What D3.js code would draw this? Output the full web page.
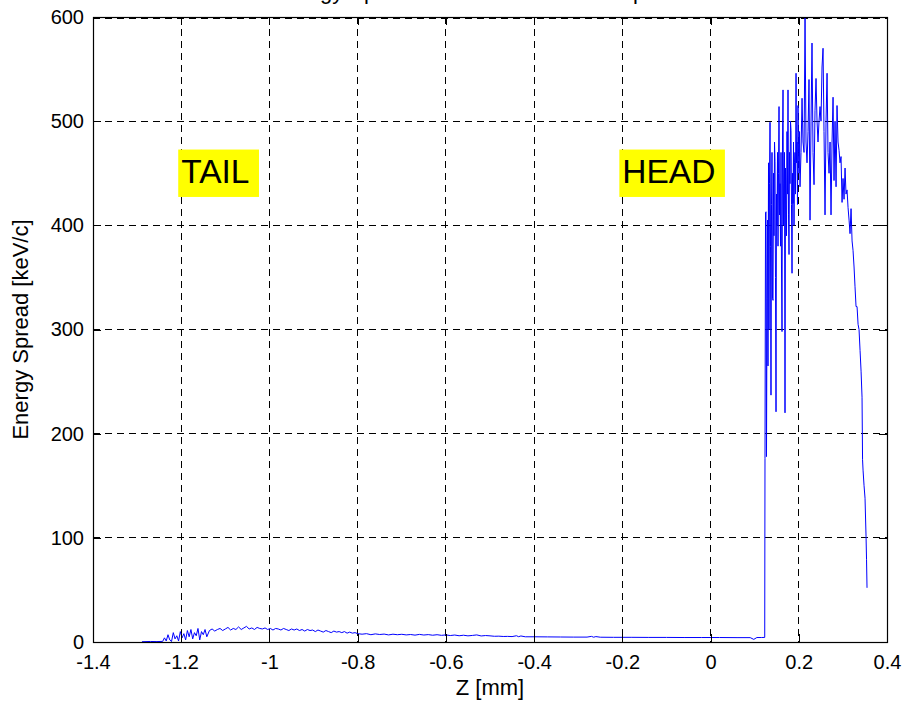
<!DOCTYPE html>
<html>
<head>
<meta charset="utf-8">
<script src="https://cdn.jsdelivr.net/npm/d3@7"></script>
<style>
  body { margin: 0; background: #fff; }
  svg text { font-family: "Liberation Sans", Arial, Helvetica, sans-serif; fill: #000; }
</style>
</head>
<body>
<svg id="chart" width="906" height="707"></svg>
<script>
// ---- axis ticks ----
const xTicks = [-1.4, -1.2, -1, -0.8, -0.6, -0.4, -0.2, 0, 0.2, 0.4];
const xTickLabels = ["-1.4", "-1.2", "-1", "-0.8", "-0.6", "-0.4", "-0.2", "0", "0.2", "0.4"];
const yTicks = [0, 100, 200, 300, 400, 500, 600];
const yTickLabels = ["0", "100", "200", "300", "400", "500", "600"];

// ---- annotations ----
const noteText = ["TAIL", "HEAD"];
const noteZ = [-1.2, -0.2];
const noteE = [450, 450];

// ---- slice energy spread [keV/c] vs Z [mm] ----
// bunch tail: start-up and noisy onset
const zTail = [-1.289, -1.270, -1.255, -1.242, -1.238, -1.234, -1.230, -1.226, -1.222, -1.218,
  -1.214, -1.210, -1.206, -1.202, -1.198, -1.194, -1.190, -1.186, -1.182, -1.178, -1.174,
  -1.170, -1.166, -1.162, -1.158, -1.154, -1.150, -1.146, -1.142];
const eTail = [0.3, 0.5, 0.4, 0.6, 4, 1, 7, 2, 0.5, 9, 3, 6, 1, 10, 4, 8, 2, 11, 5, 12, 3, 9,
  6, 13, 2, 10, 7, 12, 5];

// bunch core
const zCore = [-1.136, -1.130, -1.124, -1.118, -1.112, -1.106, -1.100, -1.094, -1.088, -1.082,
  -1.076, -1.070, -1.064, -1.058, -1.052, -1.046, -1.040, -1.034, -1.028, -1.022, -1.016,
  -1.010, -1.004, -0.998, -0.992, -0.986, -0.980, -0.974, -0.968, -0.962, -0.956, -0.950,
  -0.944, -0.938, -0.932, -0.926, -0.920, -0.914, -0.908, -0.902, -0.896, -0.890, -0.884,
  -0.878, -0.872, -0.866, -0.860, -0.854, -0.848, -0.842, -0.836, -0.830, -0.824, -0.818,
  -0.812, -0.806, -0.800];
const eCore = [11, 12.5, 10.5, 12, 13, 11, 12.5, 14, 11.5, 13, 12, 14.5, 12, 13.5, 15, 12.5,
  13.5, 12, 14, 13, 12.5, 13.5, 12, 13, 11.5, 13, 12.5, 11.5, 13, 12, 11, 12.5, 11.5, 12.5,
  11, 12, 10.5, 12, 11, 11.5, 10, 11.5, 10.5, 9.5, 11, 10, 9, 10.5, 9.5, 10, 9, 10, 8.5,
  9.5, 8.5, 9, 8];

// middle of the bunch
const zMid = [-0.79, -0.78, -0.77, -0.76, -0.75, -0.74, -0.73, -0.72, -0.71, -0.70, -0.69,
  -0.68, -0.67, -0.66, -0.65, -0.64, -0.63, -0.62, -0.61, -0.60, -0.59, -0.58, -0.57, -0.56,
  -0.55, -0.54, -0.53, -0.52, -0.51, -0.50];
const eMid = [7.5, 8, 7, 7.8, 7.2, 7.6, 6.8, 7.5, 7, 7.4, 6.8, 7.2, 6.6, 7.3, 6.7, 7.1, 6.5,
  7, 6.4, 6.8, 6.2, 6.7, 6, 6.5, 5.9, 6.3, 6.8, 5.8, 6.2, 5.9];

// quiet stretch up to the head
const zFlat = [-0.49, -0.48, -0.47, -0.46, -0.45, -0.44, -0.435, -0.43, -0.42, -0.40, -0.37,
  -0.34, -0.31, -0.28, -0.27, -0.265, -0.26, -0.25, -0.22, -0.18, -0.14, -0.10, -0.06, -0.02,
  0.02, 0.06, 0.09, 0.098, 0.105, 0.115, 0.1228];
const eFlat = [5.5, 5.6, 5.3, 5.4, 5.2, 6, 5.1, 5.8, 5, 5, 4.9, 4.8, 4.7, 4.7, 5.4, 4.6, 5.2,
  4.6, 4.5, 4.5, 4.4, 4.4, 4.3, 4.3, 4.3, 4.2, 4.2, 2.5, 4.3, 4.3, 4.4];

// head: steep rise and strongly fluctuating slices
const zHeadRise = [0.1234, 0.1246, 0.1257, 0.1268, 0.1280, 0.1291, 0.1302, 0.1314, 0.1325,
  0.1336, 0.1348, 0.1359, 0.1370, 0.1382, 0.1393, 0.1404, 0.1416, 0.1427, 0.1438, 0.1450,
  0.1461, 0.1472, 0.1484, 0.1495, 0.1506, 0.1518, 0.1529, 0.1540, 0.1552, 0.1563, 0.1575,
  0.1586, 0.1597, 0.1608, 0.1620, 0.1631, 0.1643, 0.1654, 0.1665, 0.1676, 0.1688, 0.1699,
  0.1711, 0.1722, 0.1733, 0.1744, 0.1756, 0.1767, 0.1779, 0.1790, 0.1801, 0.1812, 0.1824,
  0.1835, 0.1847, 0.1858, 0.1870, 0.1881, 0.1892, 0.1903, 0.1915, 0.1926, 0.1938, 0.1949,
  0.1960, 0.1971, 0.1983, 0.1994, 0.2006, 0.2017, 0.2028];
const eHeadRise = [176, 412, 413, 178, 330, 405, 265, 460, 300, 440, 499, 380, 237, 420, 470,
  330, 328, 450, 390, 480, 461, 350, 221, 430, 400, 470, 380, 450, 514, 410, 440, 380, 470,
  360, 298, 480, 530, 400, 440, 470, 220, 455, 420, 390, 490, 430, 530, 410, 372, 470, 440,
  500, 491, 420, 354, 450, 421, 480, 400, 460, 470, 430, 546, 460, 480, 420, 515, 470, 450,
  490, 437];

// head: peak region and fall-off at the front edge
const zHeadFront = [0.2051, 0.2074, 0.2096, 0.2119, 0.2142, 0.2164, 0.2187, 0.2210, 0.2232,
  0.2255, 0.2278, 0.2300, 0.2323, 0.2346, 0.2368, 0.2391, 0.2414, 0.2436, 0.2459, 0.2482,
  0.2504, 0.2527, 0.2550, 0.2572, 0.2595, 0.2618, 0.2641, 0.2663, 0.2686, 0.2709, 0.2731,
  0.2754, 0.2777, 0.2799, 0.2822, 0.2845, 0.2867, 0.2890, 0.2913, 0.2935, 0.2958, 0.2981,
  0.3003, 0.3026, 0.3049, 0.3071, 0.3094, 0.3117, 0.3140, 0.3162, 0.3185, 0.3208, 0.3230,
  0.3253, 0.3275, 0.3298, 0.3321, 0.3344, 0.3366, 0.3389, 0.3412, 0.3434, 0.3446, 0.3457,
  0.3480, 0.3502, 0.3525, 0.3536, 0.3547];
const eHeadFront = [470, 522, 480, 470, 599, 480, 460, 490, 540, 405, 500, 575, 470, 439, 510,
  541, 500, 480, 500, 514, 500, 552, 570, 490, 410, 500, 546, 470, 450, 480, 410, 480, 523,
  443, 500, 437, 515, 480, 472, 460, 466, 422, 445, 425, 455, 430, 434, 417, 405, 392, 416,
  385, 376, 360, 341, 322, 322, 305, 300, 280, 260, 235, 175, 165, 150, 138, 101, 79, 52];

const zAll = [].concat(zTail, zCore, zMid, zFlat, zHeadRise, zHeadFront);
const eAll = [].concat(eTail, eCore, eMid, eFlat, eHeadRise, eHeadFront);
const profile = zAll.map((z, i) => ({ z, e: eAll[i] }));

// ---- layout ----
const box = { left: 93, right: 887, top: 17, bottom: 642 };
const svg = d3.select("#chart");

const x = d3.scaleLinear().domain([-1.4, 0.4]).range([box.left, box.right]);
const y = d3.scaleLinear().domain([0, 600]).range([box.bottom, box.top]);

// dashed grid
const grid = svg.append("g").attr("shape-rendering", "crispEdges")
  .attr("stroke", "#000").attr("stroke-width", 1).attr("stroke-dasharray", "7,5");
grid.selectAll("line.gx").data(xTicks.slice(1, -1)).join("line")
  .attr("class", "gx")
  .attr("x1", d => x(d)).attr("x2", d => x(d))
  .attr("y1", box.top).attr("y2", box.bottom);
grid.selectAll("line.gy").data(yTicks.slice(1, -1)).join("line")
  .attr("class", "gy")
  .attr("x1", box.left).attr("x2", box.right)
  .attr("y1", d => y(d)).attr("y2", d => y(d));
// top grid row coincides with the frame but keeps its dashes visible
grid.append("line")
  .attr("x1", box.left).attr("x2", box.right)
  .attr("y1", y(600) + 1).attr("y2", y(600) + 1);

// data curve
svg.append("clipPath").attr("id", "plotClip")
  .append("rect")
  .attr("x", box.left).attr("y", box.top)
  .attr("width", box.right - box.left).attr("height", box.bottom - box.top);

const line = d3.line().x(d => x(d.z)).y(d => y(d.e));
svg.append("path")
  .datum(profile)
  .attr("clip-path", "url(#plotClip)")
  .attr("fill", "none")
  .attr("stroke", "#0000ff")
  .attr("stroke-width", 1)
  .attr("stroke-linejoin", "miter")
  .attr("d", line);

// axes with inward ticks on all four sides
const fmtX = d => xTickLabels[xTicks.indexOf(d)];
const fmtY = d => yTickLabels[yTicks.indexOf(d)];

function styleAxis(g) {
  g.select(".domain").remove();
  g.attr("font-size", null).attr("font-family", null);
  g.selectAll(".tick line").attr("stroke", "#000").attr("shape-rendering", "crispEdges");
  g.selectAll(".tick text").style("font-size", "20px");
}

svg.append("g").attr("transform", `translate(0,${box.bottom})`)
  .call(d3.axisBottom(x).tickValues(xTicks).tickFormat(fmtX)
    .tickSizeInner(-8).tickSizeOuter(0).tickPadding(13))
  .call(styleAxis);
svg.append("g").attr("transform", `translate(0,${box.top})`)
  .call(d3.axisTop(x).tickValues(xTicks).tickFormat("")
    .tickSizeInner(-8).tickSizeOuter(0))
  .call(styleAxis);
svg.append("g").attr("transform", `translate(${box.left},0)`)
  .call(d3.axisLeft(y).tickValues(yTicks).tickFormat(fmtY)
    .tickSizeInner(-8).tickSizeOuter(0).tickPadding(9))
  .call(styleAxis);
svg.append("g").attr("transform", `translate(${box.right},0)`)
  .call(d3.axisRight(y).tickValues(yTicks).tickFormat("")
    .tickSizeInner(-8).tickSizeOuter(0))
  .call(styleAxis);

// frame
svg.append("rect")
  .attr("x", box.left + 0.5).attr("y", box.top + 0.5)
  .attr("width", box.right - box.left).attr("height", box.bottom - box.top)
  .attr("fill", "none").attr("stroke", "#000").attr("stroke-width", 1.2);

// title (sits at the very top edge)
svg.append("text")
  .attr("x", (box.left + box.right) / 2).attr("y", -1)
  .attr("text-anchor", "middle")
  .style("font-size", "22px")
  .text("Energy  Spread  at the end of the compressor");

// axis labels
svg.append("text")
  .attr("x", (box.left + box.right) / 2).attr("y", 695)
  .attr("text-anchor", "middle")
  .style("font-size", "22px")
  .text("Z [mm]");

svg.append("text")
  .attr("transform", `translate(28,${(box.top + box.bottom) / 2}) rotate(-90)`)
  .attr("text-anchor", "middle")
  .style("font-size", "22px")
  .text("Energy  Spread [keV/c]");

// TAIL / HEAD tags on yellow background
noteText.forEach((t, i) => {
  const g = svg.append("g");
  const bx = x(noteZ[i]);
  const base = y(noteE[i]) + 10;
  const rect = g.append("rect").attr("fill", "#ffff00");
  const txt = g.append("text")
    .attr("x", bx).attr("y", base)
    .style("font-size", "33.5px")
    .text(t);
  const w = txt.node().getComputedTextLength();
  rect.attr("x", bx - 3).attr("y", base - 33.7)
    .attr("width", w + 12.5).attr("height", 47.4);
});
</script>
</body>
</html>
